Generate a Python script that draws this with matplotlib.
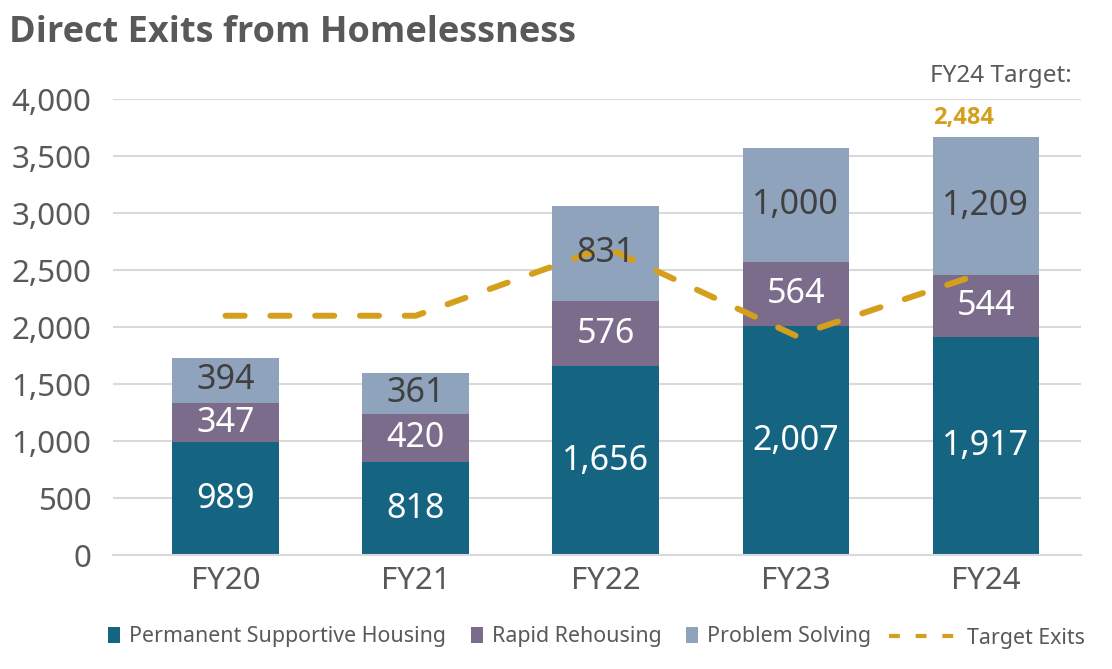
import matplotlib.pyplot as plt
import numpy as np
from matplotlib.lines import Line2D

plt.rcParams['font.family'] = ['Noto Sans', 'DejaVu Sans']

years = ["FY20", "FY21", "FY22", "FY23", "FY24"]
psh = [989, 818, 1656, 2007, 1917]
rrh = [347, 420, 576, 564, 544]
ps = [394, 361, 831, 1000, 1209]
target = [2100, 2100, 2700, 1925, 2484]

c_psh = "#156582"
c_rrh = "#7b6c8c"
c_ps = "#8fa3bd"
c_tgt = "#d49f1c"
grey = "#595959"

fig = plt.figure(figsize=(11.12, 6.69), dpi=100)
ax = fig.add_axes([0.102, 0.170, 0.870, 0.682])

x = np.arange(len(years))
w = 0.56
b1 = ax.bar(x, psh, w, color=c_psh, label="Permanent Supportive Housing", zorder=2)
b2 = ax.bar(x, rrh, w, bottom=psh, color=c_rrh, label="Rapid Rehousing", zorder=2)
bottom3 = np.array(psh) + np.array(rrh)
b3 = ax.bar(x, ps, w, bottom=bottom3, color=c_ps, label="Problem Solving", zorder=2)

ln, = ax.plot(x, target, color=c_tgt, lw=4.3, dashes=(3.2, 4.3), dash_capstyle="round",
              solid_capstyle="round", label="Target Exits", zorder=3)

for i in range(len(years)):
    ax.text(x[i], psh[i] / 2, f"{psh[i]:,}", ha="center", va="center",
            color="white", fontsize=24.5, zorder=4)
    ax.text(x[i], psh[i] + rrh[i] / 2, f"{rrh[i]:,}", ha="center", va="center",
            color="white", fontsize=24.5, zorder=4)
    ax.text(x[i], bottom3[i] + ps[i] / 2, f"{ps[i]:,}", ha="center", va="center",
            color="#404040", fontsize=24.5, zorder=4)

ax.set_ylim(0, 4000)
ax.set_xlim(-0.59, 4.5)
ax.set_yticks(range(0, 4001, 500))
ax.yaxis.set_major_formatter(plt.FuncFormatter(lambda v, p: f"{int(v):,}"))
ax.set_xticks(x)
ax.set_xticklabels(years)
ax.tick_params(axis="both", length=0, labelsize=22.5, labelcolor=grey)
ax.tick_params(axis="x", pad=8)
ax.tick_params(axis="y", pad=16)
ax.grid(axis="y", color="#d9d9d9", lw=1.5, zorder=0)
ax.set_axisbelow(True)
for s in ["top", "right", "left"]:
    ax.spines[s].set_visible(False)
ax.spines["bottom"].set_color("#d9d9d9")
ax.spines["bottom"].set_linewidth(1.5)

fig.text(0.008, 0.950, "Direct Exits from Homelessness", fontsize=26,
         fontweight="bold", family="Open Sans", color=grey, va="center")
fig.text(0.964, 0.886, "FY24 Target:", fontsize=17.5, color=grey, ha="right", va="center")
ax.text(4 - w / 2, 3833, f"{target[-1]:,}", fontsize=17, fontweight="bold",
        family="Open Sans", color=c_tgt, ha="left", va="center")

# legend: boxes and the dashed line in two parts
leg1 = fig.legend([b1, b2, b3],
                  ["Permanent Supportive Housing", "Rapid Rehousing", "Problem Solving"],
                  loc="center left", bbox_to_anchor=(108 / 1112, 0.048), ncol=3,
                  frameon=False, fontsize=15.4, labelcolor=grey, handlelength=0.58,
                  handleheight=0.72, handletextpad=0.4, columnspacing=1.15,
                  borderpad=0, borderaxespad=0)
leg_line = Line2D([], [], color=c_tgt, lw=3, dashes=(2.6, 3.8), dash_capstyle="butt")
fig.legend([leg_line], ["Target Exits"], loc="center left",
           bbox_to_anchor=(889 / 1112, 0.046), frameon=False, fontsize=15.4,
           labelcolor=grey, handlelength=3.05, handletextpad=0.6,
           borderpad=0, borderaxespad=0)

fig.savefig("out.png", dpi=100)
